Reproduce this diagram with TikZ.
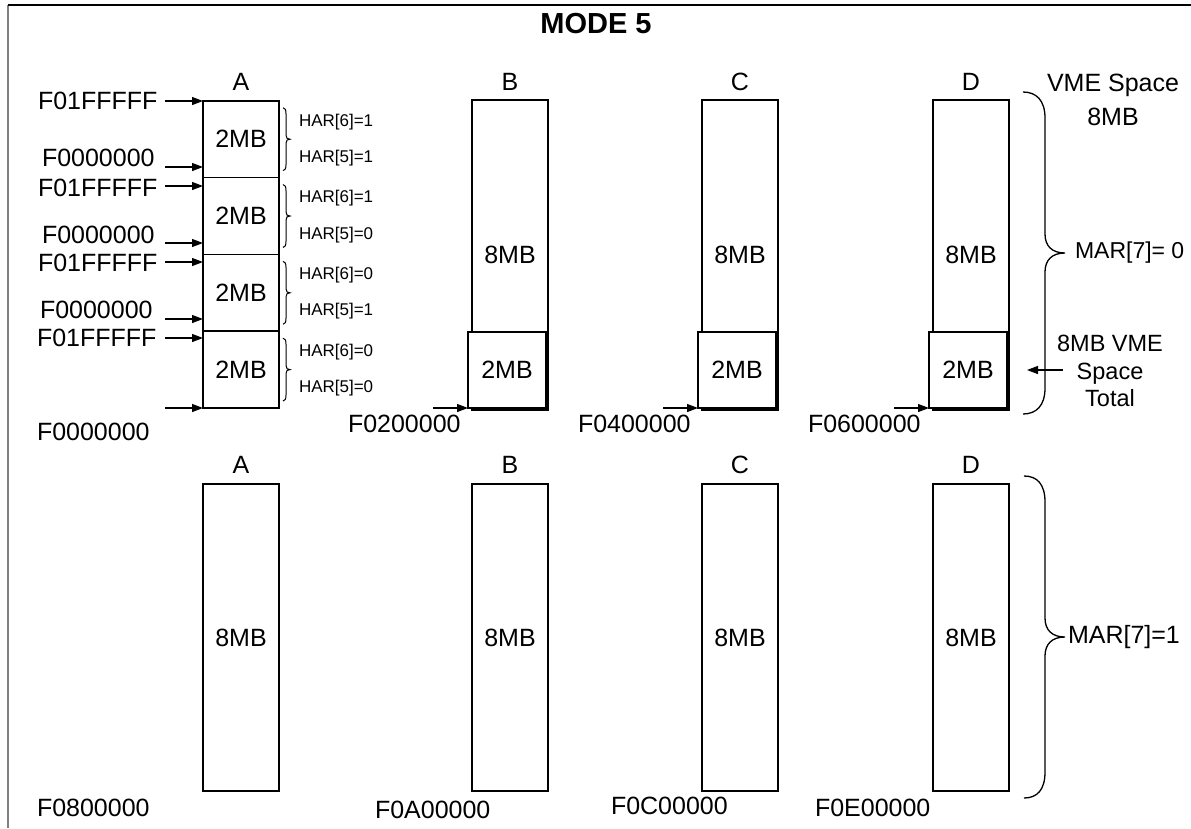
\documentclass[tikz,border=0pt]{standalone}
\usepackage{fontspec}
\setmainfont{Liberation Sans}
\usetikzlibrary{arrows.meta,calc}
\begin{document}
\begin{tikzpicture}[x=1pt,y=-1pt,
  every node/.style={font=\fontsize{25}{28}\selectfont, inner sep=0pt, outer sep=0pt},
  membox/.style={draw=black, line width=1.5pt, fill=white, minimum width=76pt},
  harlbl/.style={font=\fontsize{17}{19}\selectfont, anchor=west},
  addr/.style={anchor=west},
  ptr/.style={line width=1.2pt, -{Triangle[length=11pt,width=8pt]}},
  brc/.style={line width=1.3pt},
]
\useasboundingbox (0,0) rectangle (1191,828);
% frame
\draw[gray, line width=2pt] (8,828) -- (8,5);
\draw[black, line width=1.5pt] (8,5) -- (1191,5);
% title
\node[font=\bfseries\fontsize{29}{32}\selectfont] (title) at (596,24) {MODE 5};

% column labels
\node (lA) at (241,82) {A};
\node (lB) at (510,82) {B};
\node (lC) at (740,82) {C};
\node (lD) at (971,82) {D};
\node (mA) at (241,465) {A};
\node (mB) at (510,465) {B};
\node (mC) at (740,465) {C};
\node (mD) at (971,465) {D};

% column A : four 2MB boxes
\node[membox, minimum height=76.8pt] (a1) at (241,139.2) {2MB};
\node[membox, minimum height=76.8pt] (a2) at (241,216) {2MB};
\node[membox, minimum height=76.8pt] (a3) at (241,292.8) {2MB};
\node[membox, minimum height=76.8pt] (a4) at (241,369.6) {2MB};

% address labels of column A
\node[addr] (f1) at (38,101) {F01FFFFF};
\node[addr] (z1) at (42,158) {F0000000};
\node[addr] (f2) at (38,188) {F01FFFFF};
\node[addr] (z2) at (42,235) {F0000000};
\node[addr] (f3) at (38,263) {F01FFFFF};
\node[addr] (z3) at (40,310) {F0000000};
\node[addr] (f4) at (37,338) {F01FFFFF};
\node[addr] (z4) at (37,432) {F0000000};

% arrows of column A
\coordinate (pf1) at (165,101);
\coordinate (pz1) at (165,167);
\coordinate (pf2) at (165,186);
\coordinate (pz2) at (165,243);
\coordinate (pf3) at (165,262);
\coordinate (pz3) at (165,319);
\coordinate (pf4) at (165,338);
\coordinate (pz4) at (165,408);
\draw[ptr] (pf1) -- (pf1 -| a1.west);
\draw[ptr] (pz1) -- (pz1 -| a1.west);
\draw[ptr] (pf2) -- (pf2 -| a2.west);
\draw[ptr] (pz2) -- (pz2 -| a2.west);
\draw[ptr] (pf3) -- (pf3 -| a3.west);
\draw[ptr] (pz3) -- (pz3 -| a3.west);
\draw[ptr] (pf4) -- (pf4 -| a4.west);
\draw[ptr] (pz4) -- (pz4 -| a4.west);

% HAR labels
\node[harlbl] (h61) at (299,122) {HAR[6]=1};
\node[harlbl] (h51) at (299,158) {HAR[5]=1};
\node[harlbl] (h62) at (299,198) {HAR[6]=1};
\node[harlbl] (h52) at (299,235) {HAR[5]=0};
\node[harlbl] (h63) at (299,275) {HAR[6]=0};
\node[harlbl] (h53) at (299,311) {HAR[5]=1};
\node[harlbl] (h64) at (299,352) {HAR[6]=0};
\node[harlbl] (h54) at (299,388) {HAR[5]=0};

% small braces
\foreach \t in {100.8,177.6,254.4,331.2}{
  \pgfmathsetmacro{\ta}{\t+7}
  \pgfmathsetmacro{\tb}{\t+9}
  \pgfmathsetmacro{\tc}{\t+13}
  \pgfmathsetmacro{\md}{\t+38.4}
  \pgfmathsetmacro{\mu}{\t+34.4}
  \pgfmathsetmacro{\mv}{\t+37.4}
  \pgfmathsetmacro{\mw}{\t+39.4}
  \pgfmathsetmacro{\mx}{\t+42.4}
  \pgfmathsetmacro{\ba}{\t+69.8}
  \pgfmathsetmacro{\bb}{\t+67.8}
  \pgfmathsetmacro{\bc}{\t+63.8}
  \draw[brc, line width=1pt] (283,\ta) .. controls (285,\ta) and (286,\tb) .. (286,\tc)
     -- (286,\mu) .. controls (286,\mv) and (287.5,\md) .. (290,\md)
     .. controls (287.5,\md) and (286,\mw) .. (286,\mx)
     -- (286,\bc) .. controls (286,\bb) and (285,\ba) .. (283,\ba);
}

% top row tall boxes B C D
\node[membox, minimum height=310pt] (tB) at (510,255) {8MB};
\node[membox, minimum height=310pt] (tC) at (740,255) {8MB};
\node[membox, minimum height=310pt] (tD) at (971,255) {8MB};
% 2MB overlays
\node[membox, minimum width=78pt, minimum height=76pt] (sB) at (507,370) {2MB};
\node[membox, minimum width=78pt, minimum height=76pt] (sC) at (737,370) {2MB};
\node[membox, minimum width=78pt, minimum height=76pt] (sD) at (968,370) {2MB};
% arrows + addresses
\coordinate (pB) at (433,408);
\coordinate (pC) at (663,408);
\coordinate (pD) at (894,408);
\draw[ptr] (pB) -- (sB.south west);
\draw[ptr] (pC) -- (sC.south west);
\draw[ptr] (pD) -- (sD.south west);
\node[addr] (adB) at (348,424) {F0200000};
\node[addr] (adC) at (578,424) {F0400000};
\node[addr] (adD) at (808,424) {F0600000};

% right side labels, top
\node (vme) at (1113,85) {VME Space};
\node (vme8) at (1113,117) {8MB};
\node[addr, font=\fontsize{23}{26}\selectfont] (mar0) at (1075,253) {MAR[7]= 0};
\node[align=center, font=\fontsize{23.5}{27.5}\selectfont] (tot) at (1110,371) {8MB VME\\Space\\Total};
\coordinate (tp) at (1063,370);
\coordinate (tq) at (1027,370);
\draw[ptr] (tp) -- (tq);
% top big brace
\draw[brc] (1023,92) .. controls (1036,92) and (1045,100) .. (1045,118) -- (1045,234)
  .. controls (1045,246) and (1052,253) .. (1065,253)
  .. controls (1052,253) and (1045,260) .. (1045,272) -- (1045,388)
  .. controls (1045,406) and (1036,414) .. (1023,414);

% bottom row
\node[membox, minimum height=307pt] (bA) at (241,637.5) {8MB};
\node[membox, minimum height=307pt] (bB) at (510,637.5) {8MB};
\node[membox, minimum height=307pt] (bC) at (740,637.5) {8MB};
\node[membox, minimum height=307pt] (bD) at (971,637.5) {8MB};
\node[addr] (adE) at (37,808) {F0800000};
\node[addr] (adF) at (375,810) {F0A00000};
\node[addr] (adG) at (611,806) {F0C00000};
\node[addr] (adH) at (815,808) {F0E00000};
\node[addr] (mar1) at (1068,637) {MAR[7]=1};
\draw[brc] (1024,476) .. controls (1037,476) and (1045,484) .. (1045,502) -- (1045,618)
  .. controls (1045,630) and (1052,637) .. (1065,637)
  .. controls (1052,637) and (1045,644) .. (1045,656) -- (1045,772)
  .. controls (1045,790) and (1037,798) .. (1024,798);
\end{tikzpicture}
\end{document}
